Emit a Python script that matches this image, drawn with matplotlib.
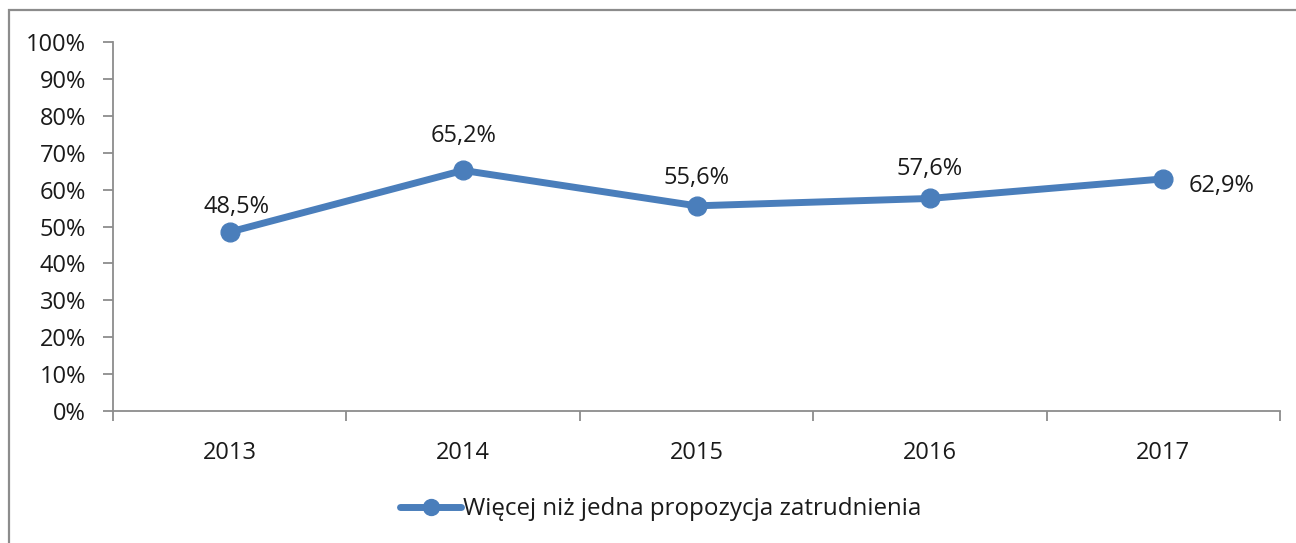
import matplotlib
matplotlib.use("Agg")
import matplotlib.pyplot as plt
from matplotlib.patches import Rectangle
from matplotlib.ticker import FixedLocator, NullFormatter

plt.rcParams['font.family'] = ['Open Sans', 'DejaVu Sans']

years = ["2013", "2014", "2015", "2016", "2017"]
values = [48.5, 65.2, 55.6, 57.6, 62.9]
value_labels = ["48,5%", "65,2%", "55,6%", "57,6%", "62,9%"]
y_ticks = [0, 10, 20, 30, 40, 50, 60, 70, 80, 90, 100]
series_name = "Więcej niż jedna propozycja zatrudnienia"

W, H = 1296, 543
FS = 17
fig = plt.figure(figsize=(W / 100, H / 100), dpi=100)

# outer chart frame
fig.patches.append(Rectangle((9 / W, -0.1), 1.2, (H - 10) / H + 0.1,
                             transform=fig.transFigure, fill=False,
                             edgecolor="#8c8c8c", linewidth=1.6))

ax = fig.add_axes([113 / W, (H - 411) / H, (1280 - 113) / W, (411 - 42) / H])
x = list(range(len(years)))
color = "#4a7ebb"
ax.plot(x, values, color=color, linewidth=5, marker="o", markersize=13.5,
        solid_capstyle="round", label=series_name, zorder=3)

offsets = [(5, 18), (0, 25), (0, 20), (0, 21.5), (42, -5)]
for xi, v, lab, off in zip(x, values, value_labels, offsets):
    ax.annotate(lab, (xi, v), xytext=off, textcoords="offset points",
                ha="center", va="center", fontsize=FS, color="#1a1a1a")

ax.set_xlim(-0.5, len(years) - 0.5)
ax.set_ylim(0, 100)
ax.set_yticks(y_ticks)
ax.set_yticklabels([f"{t}%" for t in y_ticks])
ax.xaxis.set_major_locator(FixedLocator([i - 0.5 for i in range(len(years) + 1)]))
ax.xaxis.set_major_formatter(NullFormatter())
ax.xaxis.set_minor_locator(FixedLocator(x))
ax.set_xticklabels(years, minor=True)
ax.tick_params(axis="x", which="minor", length=0, pad=21.5, labelsize=FS, labelcolor="#1a1a1a")
ax.tick_params(axis="x", which="major", length=7.5, width=1.3, color="#8c8c8c", direction="out")
ax.tick_params(axis="y", length=7.5, width=1.3, color="#8c8c8c", direction="out",
               labelsize=FS, labelcolor="#1a1a1a", pad=12)
for s in ["top", "right"]:
    ax.spines[s].set_visible(False)
for s in ["left", "bottom"]:
    ax.spines[s].set_color("#8c8c8c")
    ax.spines[s].set_linewidth(1.3)
ax.set_facecolor("none")

leg = fig.legend(loc="center", bbox_to_anchor=(661 / W, 1 - 509 / H), frameon=False,
                 fontsize=17.4, handlelength=2.5, handletextpad=0.1, markerscale=0.85)
for t in leg.get_texts():
    t.set_color("#1a1a1a")

fig.savefig("out.png", dpi=100)
